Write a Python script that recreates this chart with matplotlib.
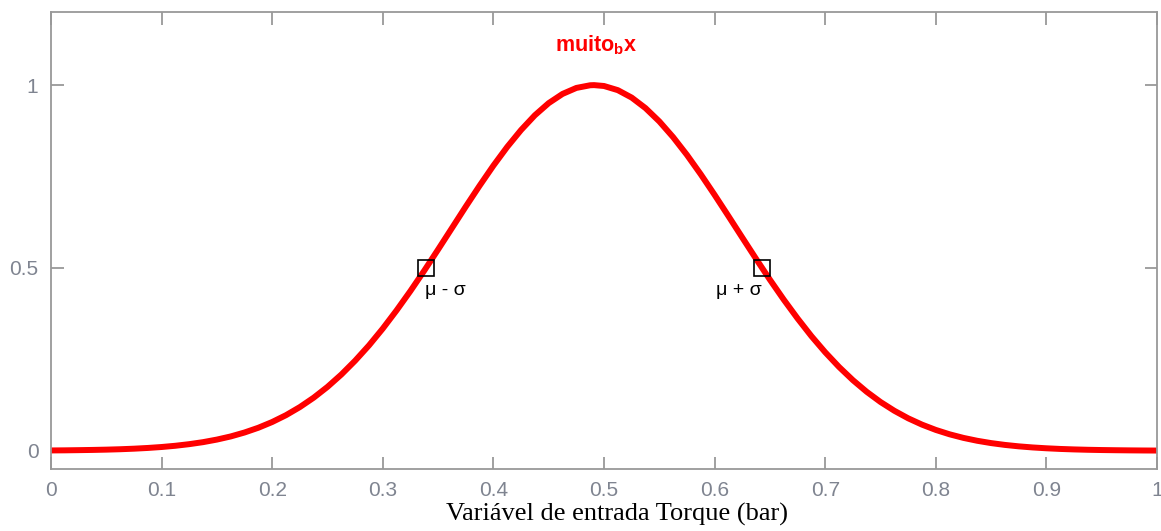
import numpy as np
import matplotlib
matplotlib.use("Agg")
import matplotlib.pyplot as plt

# função de pertinência "muito_b" lida ponto a ponto (passo 0.0125)
torque = [0.0, 0.0125, 0.025, 0.0375, 0.05, 0.0625, 0.075, 0.0875,
          0.1, 0.1125, 0.125, 0.1375, 0.15, 0.1625, 0.175, 0.1875,
          0.2, 0.2125, 0.225, 0.2375, 0.25, 0.2625, 0.275, 0.2875,
          0.3, 0.3125, 0.325, 0.3375, 0.35, 0.3625, 0.375, 0.3875,
          0.4, 0.4125, 0.425, 0.4375, 0.45, 0.4625, 0.475, 0.4875,
          0.491, 0.5, 0.5125, 0.525, 0.5375, 0.55, 0.5625, 0.575, 0.5875,
          0.6, 0.6125, 0.625, 0.6375, 0.65, 0.6625, 0.675, 0.6875,
          0.7, 0.7125, 0.725, 0.7375, 0.75, 0.7625, 0.775, 0.7875,
          0.8, 0.8125, 0.825, 0.8375, 0.85, 0.8625, 0.875, 0.8875,
          0.9, 0.9125, 0.925, 0.9375, 0.95, 0.9625, 0.975, 0.9875, 1.0]
pertinencia = [0.0007, 0.0010, 0.0015, 0.0021, 0.0029, 0.0040, 0.0055, 0.0075,
               0.0101, 0.0135, 0.0179, 0.0234, 0.0304, 0.0390, 0.0498, 0.0628,
               0.0785, 0.0972, 0.1193, 0.1450, 0.1746, 0.2083, 0.2462, 0.2880,
               0.3341, 0.3840, 0.4369, 0.4926, 0.5503, 0.6089, 0.6676, 0.7248,
               0.7798, 0.8310, 0.8772, 0.9176, 0.9508, 0.9759, 0.9923, 0.9996,
               1.0, 0.9976, 0.9862, 0.9659, 0.9371, 0.9007, 0.8576, 0.8090, 0.7559,
               0.6997, 0.6417, 0.5830, 0.5247, 0.4677, 0.4132, 0.3617, 0.3134,
               0.2692, 0.2290, 0.1930, 0.1611, 0.1332, 0.1092, 0.0886, 0.0713,
               0.0568, 0.0448, 0.0350, 0.0271, 0.0208, 0.0158, 0.0119, 0.0089,
               0.0066, 0.0048, 0.0035, 0.0025, 0.0018, 0.0013, 0.0009, 0.0006, 0.0004]

mu = 0.491
sigma = 0.152
pontos_x = [mu - sigma, mu + sigma]
pontos_y = [0.5, 0.5]
rotulos = ["\u03bc - \u03c3", "\u03bc + \u03c3"]

xticks = np.round(np.arange(0, 1.01, 0.1), 1)
yticks = [0, 0.5, 1]

plt.rcParams["mathtext.fontset"] = "custom"
plt.rcParams["mathtext.bf"] = "Liberation Sans:bold"

fig = plt.figure(figsize=(11.61, 5.31), dpi=100)
ax = fig.add_axes([0.0439, 0.1168, 0.9527, 0.8606])

ax.plot(torque, pertinencia, color="red", lw=4.3,
        solid_joinstyle="round", solid_capstyle="butt")
ax.plot(pontos_x, pontos_y, ls="none", marker="s", ms=11, mfc="none",
        mec="black", mew=1.2)

ax.annotate(rotulos[0], (pontos_x[0], pontos_y[0]), xytext=(-1, -10),
            textcoords="offset points", ha="left", va="top",
            fontsize=14, family="Liberation Sans")
ax.annotate(rotulos[1], (pontos_x[1], pontos_y[1]), xytext=(0, -10),
            textcoords="offset points", ha="right", va="top",
            fontsize=14, family="Liberation Sans")

ax.text(0.493, 1.109, r"$\mathbf{muito}_\mathbf{b}\mathbf{x}$", color="red",
        fontsize=15.5, ha="center", va="center")

ax.set_xlim(0, 1)
ax.set_ylim(-0.05, 1.2)
ax.set_xticks(xticks)
ax.set_xticklabels(["%g" % t for t in xticks])
ax.set_yticks(yticks)
ax.set_yticklabels(["%g" % t for t in yticks])

gris = "#999999"
for s in ax.spines.values():
    s.set_color(gris)
    s.set_linewidth(1.3)
ax.tick_params(direction="in", length=9, width=1.3, color=gris,
               labelcolor="#7f8490", labelsize=15, pad=9,
               top=True, right=True)
for lab in ax.get_xticklabels() + ax.get_yticklabels():
    lab.set_family("Liberation Sans")

ax.set_xlabel("Variável de entrada Torque (bar)", family="Liberation Serif",
              fontsize=19)
ax.xaxis.set_label_coords(0.512, -0.074)

fig.savefig("out.png", dpi=100)
